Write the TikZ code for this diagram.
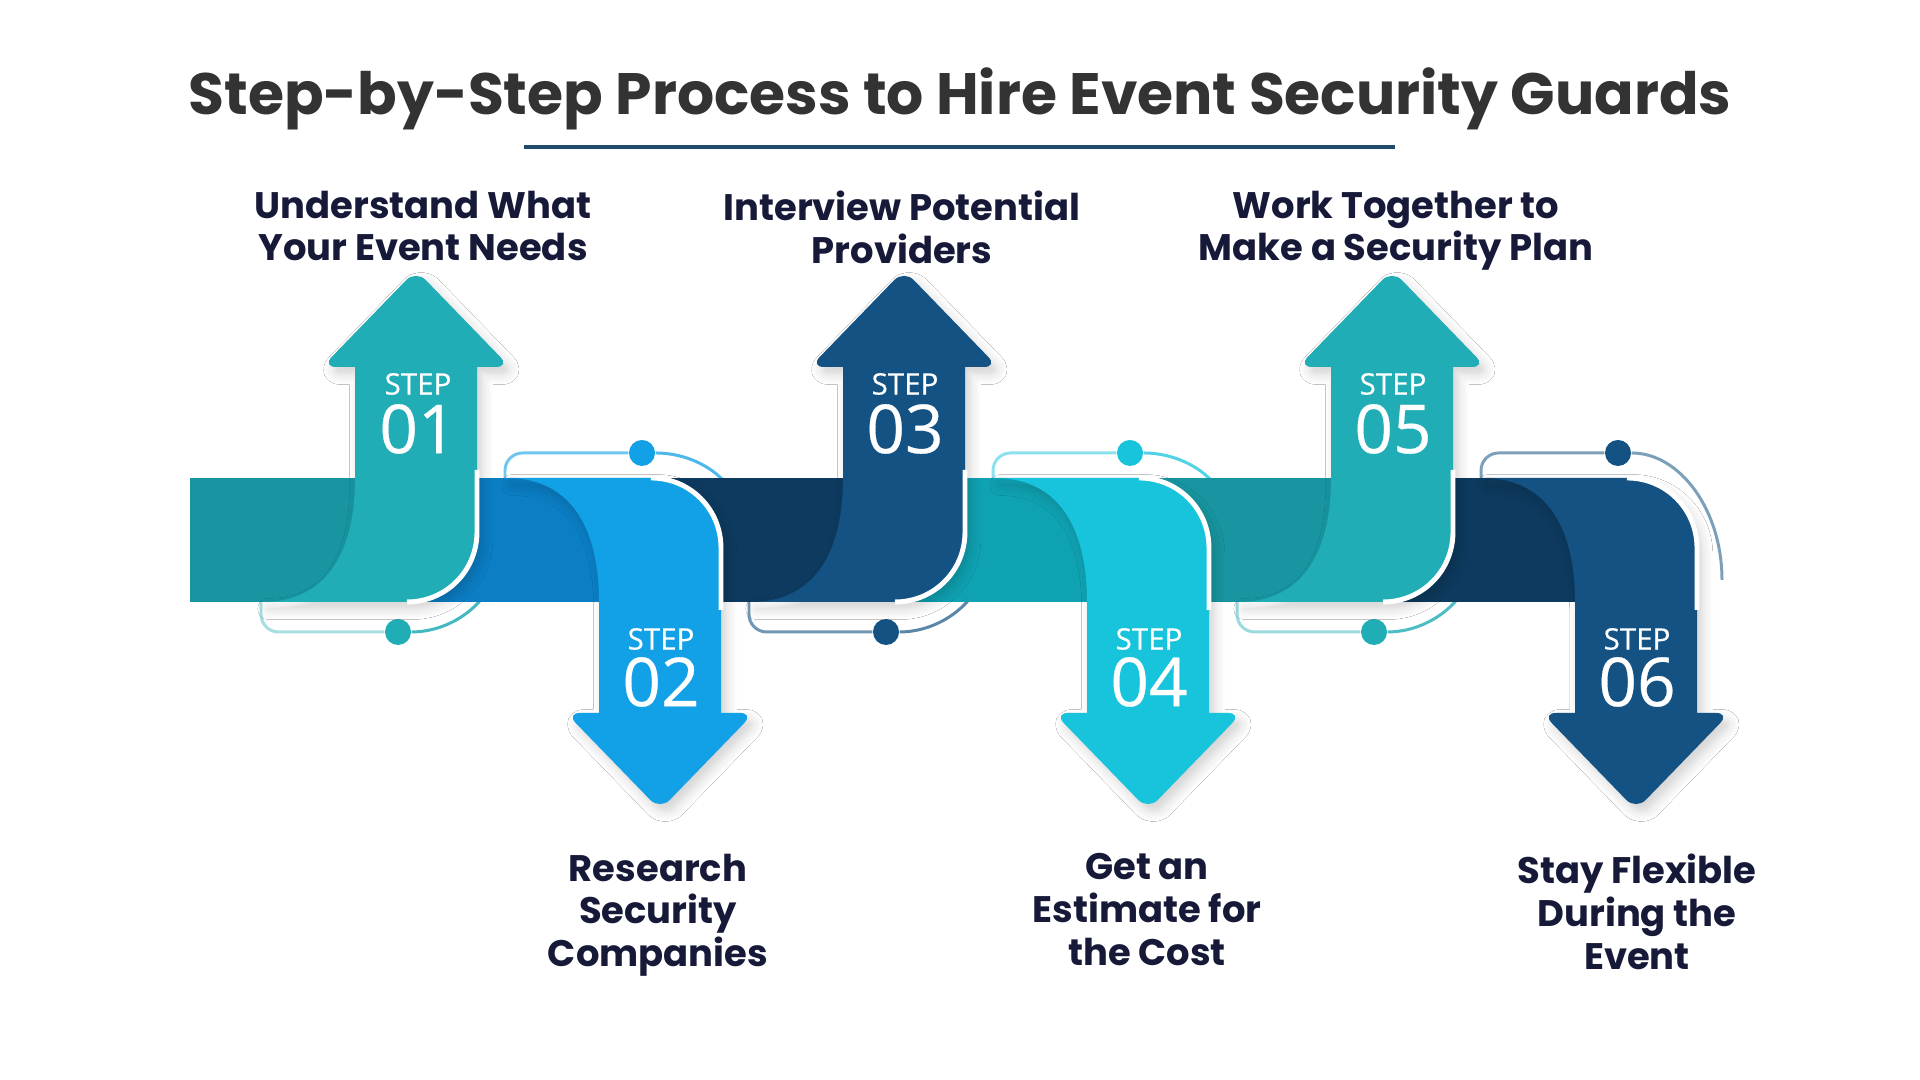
\documentclass[tikz,border=0pt]{standalone}
\usepackage{fontspec}
\setmainfont{Poppins}
\newfontfamily\stepfont[FakeBold=0.4]{Open Sans}
\usepackage{tikz}
\usetikzlibrary{positioning, shadows.blur}
\usepackage{xcolor}
\definecolor{tealband}{HTML}{20ADB6}
\definecolor{tealdeep}{HTML}{1895A0}
\definecolor{skyband}{HTML}{12A0E6}
\definecolor{skydeep}{HTML}{0B7EC4}
\definecolor{navyband}{HTML}{135282}
\definecolor{navydeep}{HTML}{0D3A5E}
\definecolor{cyanband}{HTML}{18C3DC}
\definecolor{cyandeep}{HTML}{0FA2B2}
\definecolor{inkdark}{HTML}{161A38}
\definecolor{inkgray}{HTML}{333333}
\definecolor{ruleblue}{HTML}{1E4A6E}

\begin{document}
\begin{tikzpicture}[
  x=0.01cm, y=0.01cm,
  heading/.style={font=\bfseries\fontsize{16.6}{20}\selectfont, text=inkgray, inner sep=0pt},
  lbl/.style={font=\bfseries\fontsize{10.5}{12.2}\selectfont, text=inkdark, align=center, inner sep=0pt, anchor=north},
  steplbl/.style={font=\stepfont\fontsize{8.4}{9}\selectfont, text=white, inner sep=0pt},
  stepnum/.style={font=\stepfont\fontsize{19.2}{20}\selectfont, text=white, inner sep=0pt},
  dot/.style={circle, inner sep=0pt, minimum size=0.26cm},
  link/.style={line width=0.85pt, rounded corners=5pt},
  rim/.style={white, line width=1.4pt},
  soft/.style={blur shadow={shadow xshift=1.5pt, shadow yshift=-2pt, shadow opacity=18, shadow blur steps=6, shadow blur radius=3pt}},
  upribbon/.pic={
    \fill[pic actions, soft] (-153,478) .. controls (-95,478) and (-61,520) .. (-61,602) -- (-61,713)
      [rounded corners=4pt] -- (-94,713) -- (0,810) -- (94,713) [sharp corners] -- (61,713)
      -- (61,548) .. controls (61,509) and (30,478) .. (-9,478) -- cycle;
    \draw[rim] (61,610) -- (61,548) .. controls (61,509) and (30,478) .. (-9,478);
  },
  downribbon/.pic={
    \fill[pic actions, soft] (-153,602) .. controls (-95,602) and (-61,560) .. (-61,478) -- (-61,367)
      [rounded corners=4pt] -- (-94,367) -- (0,270) -- (94,367) [sharp corners] -- (61,367)
      -- (61,532) .. controls (61,571) and (30,602) .. (-9,602) -- cycle;
    \draw[rim] (61,470) -- (61,532) .. controls (61,571) and (30,602) .. (-9,602);
  }
]
  \fill[white] (0,0) rectangle (1920,1080);
  \useasboundingbox (0,0) rectangle (1920,1080);

  \node[heading] (title) at (960,981) {Step-by-Step Process to Hire Event Security Guards};
  \draw[ruleblue, line width=1.1pt] (524,933) -- (1395,933);

  % thin links with dots, drawn first so the band hides their ends
  \node[dot, fill=tealband] (d1) at (398,448) {};
  \node[dot, fill=skyband] (d2) at (642,627) {};
  \node[dot, fill=navyband] (d3) at (886,448) {};
  \node[dot, fill=cyanband] (d4) at (1130,627) {};
  \node[dot, fill=tealband] (d5) at (1374,448) {};
  \node[dot, fill=navyband] (d6) at (1618,627) {};
  \coordinate (a1) at (261,500);  \coordinate (b1) at (502,540);
  \coordinate (a2) at (505,580);  \coordinate (b2) at (746,540);
  \coordinate (a3) at (749,500);  \coordinate (b3) at (990,540);
  \coordinate (a4) at (993,580);  \coordinate (b4) at (1234,540);
  \coordinate (a5) at (1237,500); \coordinate (b5) at (1478,540);
  \coordinate (a6) at (1481,580); \coordinate (b6) at (1722,500);
  \draw[link, tealband!40] (a1) |- (d1);
  \draw[link, tealband!85] (d1) .. controls +(55,0) and +(0,-60) .. (b1);
  \draw[link, skyband!60] (a2) |- (d2);
  \draw[link, skyband!75] (d2) .. controls +(55,0) and +(0,60) .. (b2);
  \draw[link, navyband!60] (a3) |- (d3);
  \draw[link, navyband!70] (d3) .. controls +(55,0) and +(0,-60) .. (b3);
  \draw[link, cyanband!50] (a4) |- (d4);
  \draw[link, cyanband!75] (d4) .. controls +(55,0) and +(0,60) .. (b4);
  \draw[link, tealband!45] (a5) |- (d5);
  \draw[link, tealband!80] (d5) .. controls +(55,0) and +(0,-60) .. (b5);
  \draw[link, navyband!55] (a6) |- (d6);
  \draw[link, navyband!55] (d6) .. controls +(62,0) and +(0,70) .. (b6);

  % band pieces
  \fill[tealdeep] (190,478) rectangle (416,602);
  \fill[skydeep] (416,478) rectangle (660,602);
  \fill[navydeep] (660,478) rectangle (904,602);
  \fill[cyandeep] (904,478) rectangle (1148,602);
  \fill[tealdeep] (1148,478) rectangle (1392,602);
  \fill[navydeep] (1392,478) rectangle (1636,602);

  % arrows
  \pic[fill=tealband] at (416,0) {upribbon};
  \pic[fill=skyband] at (660,0) {downribbon};
  \pic[fill=navyband] at (904,0) {upribbon};
  \pic[fill=cyanband] at (1148,0) {downribbon};
  \pic[fill=tealband] at (1392,0) {upribbon};
  \pic[fill=navyband] at (1636,0) {downribbon};

  \node[steplbl] (s1) at (418,696) {STEP};
  \node[stepnum] (n1) at (418,651) {01};
  \node[steplbl] (s2) at (661,441) {STEP};
  \node[stepnum] (n2) at (661,398) {02};
  \node[steplbl] (s3) at (905,696) {STEP};
  \node[stepnum] (n3) at (905,651) {03};
  \node[steplbl] (s4) at (1149,441) {STEP};
  \node[stepnum] (n4) at (1149,398) {04};
  \node[steplbl] (s5) at (1393,696) {STEP};
  \node[stepnum] (n5) at (1393,651) {05};
  \node[steplbl] (s6) at (1637,441) {STEP};
  \node[stepnum] (n6) at (1637,398) {06};

  \node[lbl] (t1) at (423,890) {Understand What\\Your Event Needs};
  \node[lbl] (t3) at (902,890) {Interview Potential\\Providers};
  \node[lbl] (t5) at (1396,890) {Work Together to\\Make a Security Plan};
  \node[lbl] (t2) at (658,227) {Research\\Security\\Companies};
  \node[lbl] (t4) at (1147,227) {Get an\\Estimate for\\the Cost};
  \node[lbl] (t6) at (1637,227) {Stay Flexible\\During the\\Event};
\end{tikzpicture}
\end{document}
